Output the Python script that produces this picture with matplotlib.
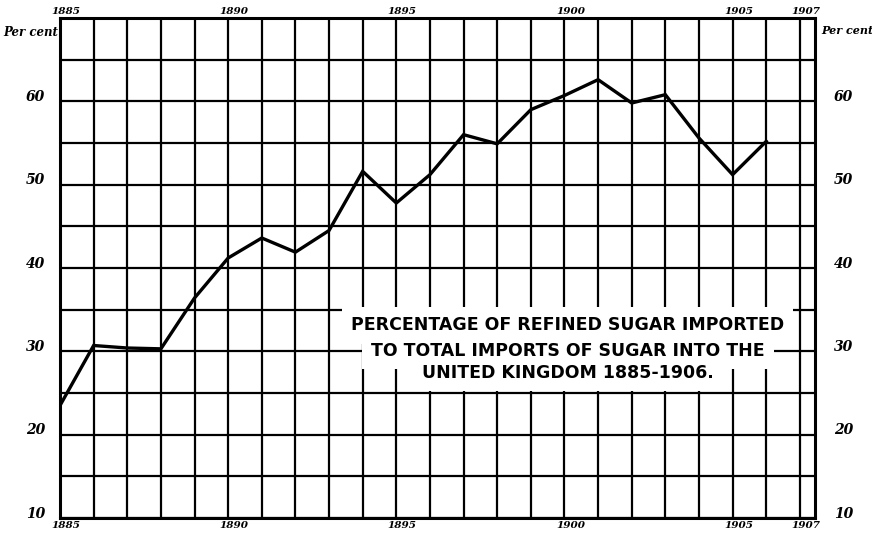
import matplotlib
matplotlib.use("Agg")
import matplotlib.pyplot as plt
from matplotlib.transforms import offset_copy

years = list(range(1885, 1907))
percent = [23.5, 30.7, 30.4, 30.3, 36.4, 41.2, 43.6, 41.9, 44.5, 51.6, 47.8,
           51.2, 56.0, 54.9, 59.0, 60.7, 62.6, 59.8, 60.8, 55.6, 51.2, 55.2]
y_ticks = [10, 20, 30, 40, 50, 60]
year_labels = [1885, 1890, 1895, 1900, 1905, 1907]
title_lines = ["PERCENTAGE OF REFINED SUGAR IMPORTED",
               "TO TOTAL IMPORTS OF SUGAR INTO THE",
               "UNITED KINGDOM 1885-1906."]

fig = plt.figure(figsize=(8.72, 5.34), dpi=100)
ax = fig.add_axes([60/872, 1-518/534, (815-60)/872, (518-18)/534])
ax.set_xlim(1885, 1907.45)
ax.set_ylim(10, 70)

for yr in range(1885, 1908):
    ax.axvline(yr, color='black', lw=1.6, zorder=1)
for v in range(10, 71, 5):
    ax.axhline(v, color='black', lw=1.6, zorder=1)

ax.plot(years, percent, color='black', lw=2.4, zorder=3, solid_joinstyle='miter')

for s in ax.spines.values():
    s.set_linewidth(2.2)
    s.set_color('black')
ax.set_xticks([])
ax.set_yticks([])

lab_font = dict(family='DejaVu Serif', fontweight='bold', fontstyle='italic')
for v in y_ticks:
    ax.text(-0.02, v + 0.5, str(v), transform=ax.get_yaxis_transform(),
            ha='right', va='center', fontsize=10, **lab_font)
    ax.text(1.025, v + 0.5, str(v), transform=ax.get_yaxis_transform(),
            ha='left', va='center', fontsize=10, **lab_font)
ax.text(-0.003, 0.985, "Per cent", transform=ax.transAxes, ha='right', va='top',
        fontsize=8.5, **lab_font)
ax.text(1.008, 0.985, "Per cent", transform=ax.transAxes, ha='left', va='top',
        fontsize=8, **lab_font)

top_tr = offset_copy(ax.get_xaxis_transform(), fig=fig, x=6, y=0, units='dots')
for yr in year_labels:
    ax.text(yr, 1.005, str(yr), transform=top_tr, ha='center', va='bottom',
            fontsize=7.5, **lab_font)
    ax.text(yr, -0.005, str(yr), transform=top_tr, ha='center', va='top',
            fontsize=7.5, **lab_font)

title_y = [33.1, 30.1, 27.4]
for line, ty in zip(title_lines, title_y):
    # white backing (drawn below all title text)
    ax.text(1900.1, ty, line, ha='center', va='center', fontsize=12.5,
            fontweight='bold', family='DejaVu Sans', zorder=5, color='white',
            bbox=dict(facecolor='white', edgecolor='none', pad=6.5))
for line, ty in zip(title_lines, title_y):
    ax.text(1900.1, ty, line, ha='center', va='center', fontsize=12.5,
            fontweight='bold', family='DejaVu Sans', zorder=6, color='black')

fig.savefig("out.png", dpi=100)
